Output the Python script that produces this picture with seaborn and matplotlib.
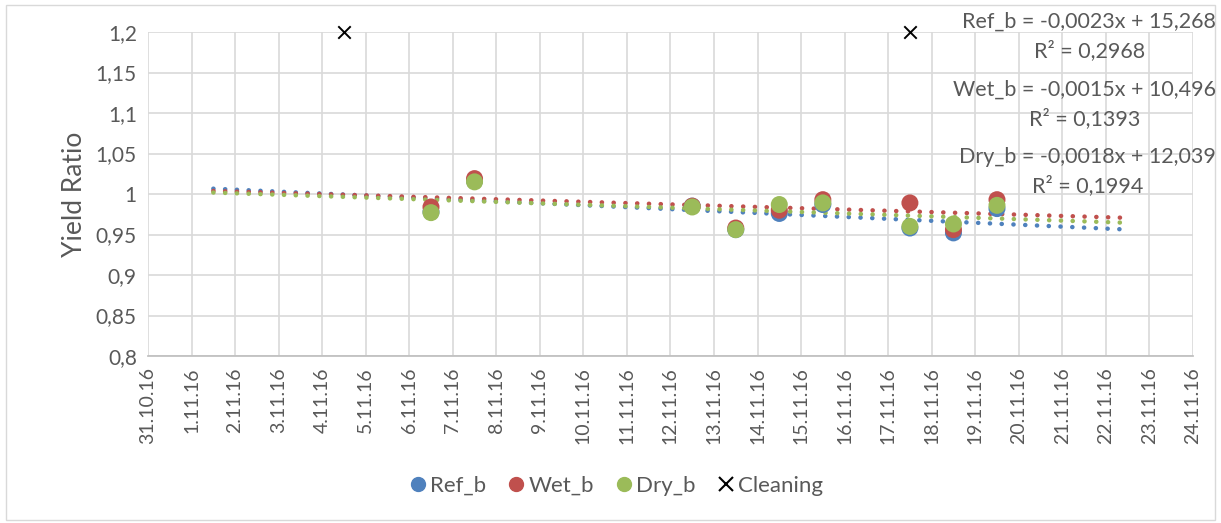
import numpy as np
import pandas as pd
import matplotlib
matplotlib.use('Agg')
import matplotlib.pyplot as plt
import matplotlib.dates as mdates
from matplotlib.ticker import FuncFormatter, MultipleLocator
import seaborn as sns

# data (points sit at noon of each day)
dates = ['2016-11-06 12:00', '2016-11-07 12:00', '2016-11-12 12:00', '2016-11-13 12:00',
         '2016-11-14 12:00', '2016-11-15 12:00', '2016-11-17 12:00', '2016-11-18 12:00',
         '2016-11-19 12:00']
ref_b = [0.978, 1.016, 0.985, 0.956, 0.976, 0.987, 0.958, 0.952, 0.982]
wet_b = [0.984, 1.019, 0.985, 0.958, 0.980, 0.993, 0.989, 0.956, 0.993]
dry_b = [0.977, 1.015, 0.984, 0.956, 0.987, 0.989, 0.960, 0.963, 0.986]
cleaning_dates = ['2016-11-04 12:00', '2016-11-17 12:00']
cleaning_vals = [1.2, 1.2]
trend_labels = ['Ref_b = -0,0023x + 15,268\nR² = 0,2968',
                'Wet_b = -0,0015x + 10,496\nR² = 0,1393',
                'Dry_b = -0,0018x + 12,039\nR² = 0,1994']
trend_start, trend_end = '2016-11-01 12:00', '2016-11-22 12:00'

colors = {'Ref_b': '#4F81BD', 'Wet_b': '#C0504D', 'Dry_b': '#9BBB59'}
text_col = '#595959'

sns.set_theme(style='white')
plt.rcParams['font.family'] = ['Lato', 'DejaVu Sans']

df = pd.DataFrame({'date': pd.to_datetime(dates), 'Ref_b': ref_b, 'Wet_b': wet_b, 'Dry_b': dry_b})
long = df.melt(id_vars='date', var_name='series', value_name='ratio')

fig = plt.figure(figsize=(12.21, 5.23), dpi=100)
ax = fig.add_axes([0.1212, 0.3193, 0.8558, 0.6195])

# trendlines (linear fit, extended like Excel forecast)
x_num = mdates.date2num(df['date'])
xt = mdates.date2num(pd.to_datetime([trend_start, trend_end]))
xt = np.linspace(xt[0], xt[1], 200)
for name in ['Ref_b', 'Wet_b', 'Dry_b']:
    k, b = np.polyfit(x_num, df[name], 1)
    ax.plot(mdates.num2date(xt), k * xt + b, linestyle=(0, (0.05, 2.6)), dash_capstyle='round',
            solid_capstyle='round', color=colors[name], lw=3.2, zorder=2)

sns.scatterplot(data=long, x='date', y='ratio', hue='series', palette=colors,
                s=150, edgecolor='none', ax=ax, zorder=3, legend=False)
ax.scatter(pd.to_datetime(cleaning_dates), cleaning_vals, marker='x', color='black',
           s=80, linewidths=1.4, zorder=4, clip_on=False)

ax.set_ylim(0.8, 1.2)
ax.set_xlim(pd.Timestamp('2016-10-31'), pd.Timestamp('2016-11-24'))
ax.yaxis.set_major_locator(MultipleLocator(0.05))
ax.yaxis.set_major_formatter(FuncFormatter(lambda v, p: f'{v:.2f}'.rstrip('0').rstrip('.').replace('.', ',')))
ax.xaxis.set_major_locator(mdates.DayLocator())
ax.xaxis.set_major_formatter(FuncFormatter(
    lambda v, p: '{}.{}.{}'.format(mdates.num2date(v).day, mdates.num2date(v).month,
                                   mdates.num2date(v).strftime('%y'))))
ax.grid(True, color='#d9d9d9', lw=1.2)
ax.set_axisbelow(True)
for s in ['top', 'right', 'left']:
    ax.spines[s].set_visible(False)
ax.spines['bottom'].set_color('#bfbfbf')
ax.tick_params(axis='x', labelrotation=90, labelsize=14, colors=text_col, length=0, pad=8)
ax.tick_params(axis='y', labelsize=15, colors=text_col, length=0, pad=8)
ax.set_xlabel('')
ax.set_ylabel('Yield Ratio', fontsize=19, color=text_col, labelpad=6)

# trendline labels
for i, t in enumerate(trend_labels):
    fig.text(0.996, 0.978 - i * 0.1295, t, ha='right', va='top', fontsize=15.5,
             color=text_col, multialignment='center', linespacing=1.5)

# legend
handles = [plt.Line2D([], [], marker='o', ls='', color=colors[n], markersize=10) for n in colors]
handles.append(plt.Line2D([], [], marker='x', ls='', color='black', markersize=10, mew=1.5))
fig.legend(handles, list(colors) + ['Cleaning'], loc='center', bbox_to_anchor=(0.505, 0.071),
           ncol=4, frameon=False, fontsize=16, handlelength=0.7, handletextpad=0.2,
           columnspacing=1.0, labelcolor=text_col)

fig.patches.append(plt.Rectangle((0.005, 0.005), 0.99, 0.985, transform=fig.transFigure,
                                 fill=False, edgecolor='#d9d9d9', lw=1))
fig.savefig('out.png', dpi=100)
